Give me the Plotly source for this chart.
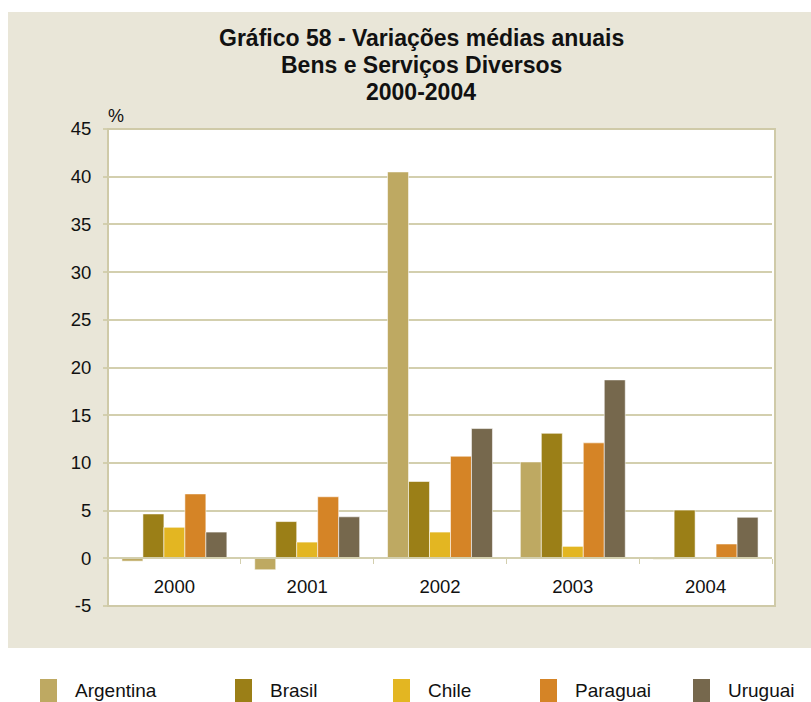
import plotly.graph_objects as go

years = ["2000", "2001", "2002", "2003", "2004"]
argentina = [-0.3, -1.2, 40.5, 10.1, -0.1]
brasil = [4.65, 3.85, 8.05, 13.1, 5.05]
chile = [3.25, 1.7, 2.75, 1.25, 0.0]
paraguai = [6.75, 6.45, 10.7, 12.1, 1.5]
uruguai = [2.75, 4.35, 13.6, 18.7, 4.3]

series_names = ["Argentina", "Brasil", "Chile", "Paraguai", "Uruguai"]
series_values = [argentina, brasil, chile, paraguai, uruguai]
colors = ["#bea962", "#9b7f17", "#e3b622", "#d58426", "#76684d"]

title_lines = ["Gráfico 58 - Variações médias anuais", "Bens e Serviços Diversos", "2000-2004"]
y_ticks = [-5, 0, 5, 10, 15, 20, 25, 30, 35, 40, 45]

W, H = 811, 702
L, R, T, B = 108, 772, 129, 606
grid = "#d3cfae"
beige = "#e9e6d8"
FONT = "Liberation Sans, Arial, sans-serif"

fig = go.Figure()
for name, vals, col in zip(series_names, series_values, colors):
    fig.add_trace(go.Bar(
        x=years, y=vals, name=name, showlegend=False,
        marker=dict(color=col, line=dict(color="rgba(255,255,255,0.55)", width=1)),
    ))

def px_x(p):
    return (p - L) / (R - L)

def px_y(p):
    return (B - p) / (B - T)

shapes = [
    dict(type="rect", xref="paper", yref="paper", layer="below",
         x0=px_x(8), x1=px_x(811), y0=px_y(648), y1=px_y(12),
         fillcolor=beige, line=dict(width=0)),
    dict(type="rect", xref="paper", yref="paper", layer="below",
         x0=0, x1=px_x(775), y0=0, y1=1,
         fillcolor="white", line=dict(color="#cfcaa8", width=2)),
]

annotations = []
title_y = [38, 65, 92]
for txt, ty in zip(title_lines, title_y):
    annotations.append(dict(text="<b>" + txt + "</b>", xref="paper", yref="paper",
                            x=px_x(421), y=px_y(ty), xanchor="center", yanchor="middle",
                            showarrow=False,
                            font=dict(family=FONT, size=23, color="#111111")))
annotations.append(dict(text="%", xref="paper", yref="paper", x=px_x(106), y=px_y(116),
                        xanchor="left", yanchor="middle", showarrow=False,
                        font=dict(family=FONT, size=18, color="#111111")))

legend_x = [40, 235, 393, 540, 693]
for name, col, lx in zip(series_names, colors, legend_x):
    shapes.append(dict(type="rect", xref="paper", yref="paper",
                       x0=px_x(lx), x1=px_x(lx + 17), y0=px_y(702), y1=px_y(679),
                       fillcolor=col, line=dict(width=0)))
    annotations.append(dict(text=name, xref="paper", yref="paper",
                            x=px_x(lx + 33), y=px_y(690), xanchor="left", yanchor="middle",
                            showarrow=False,
                            font=dict(family=FONT, size=19, color="#111111")))

fig.update_layout(
    width=W, height=H,
    margin=dict(l=L, r=W - R, t=T, b=H - B, pad=0),
    paper_bgcolor="white", plot_bgcolor="rgba(0,0,0,0)",
    barmode="group", bargap=0.21, bargroupgap=0,
    font=dict(family=FONT, size=18, color="#111111"),
    shapes=shapes, annotations=annotations,
    xaxis=dict(type="category", anchor="free", position=0.1,
               showline=True, linecolor=grid, linewidth=2,
               ticks="outside", tickson="boundaries", ticklen=5, tickcolor=grid, tickwidth=1,
               showgrid=False, ticklabelstandoff=11,
               tickfont=dict(size=18.5, color="#111111")),
    yaxis=dict(range=[-5, 45], tickvals=y_ticks, ticktext=[str(v) for v in y_ticks],
               showgrid=True, gridcolor=grid, gridwidth=2, zeroline=False,
               ticks="outside", ticklen=4, tickcolor=grid, tickwidth=2,
               showline=False, tickfont=dict(size=18.5, color="#111111"),
               ticklabelstandoff=8),
)

fig.write_html("out.html", config={"displayModeBar": False},
               post_script="document.body.style.margin='0';document.body.style.padding='0';")
